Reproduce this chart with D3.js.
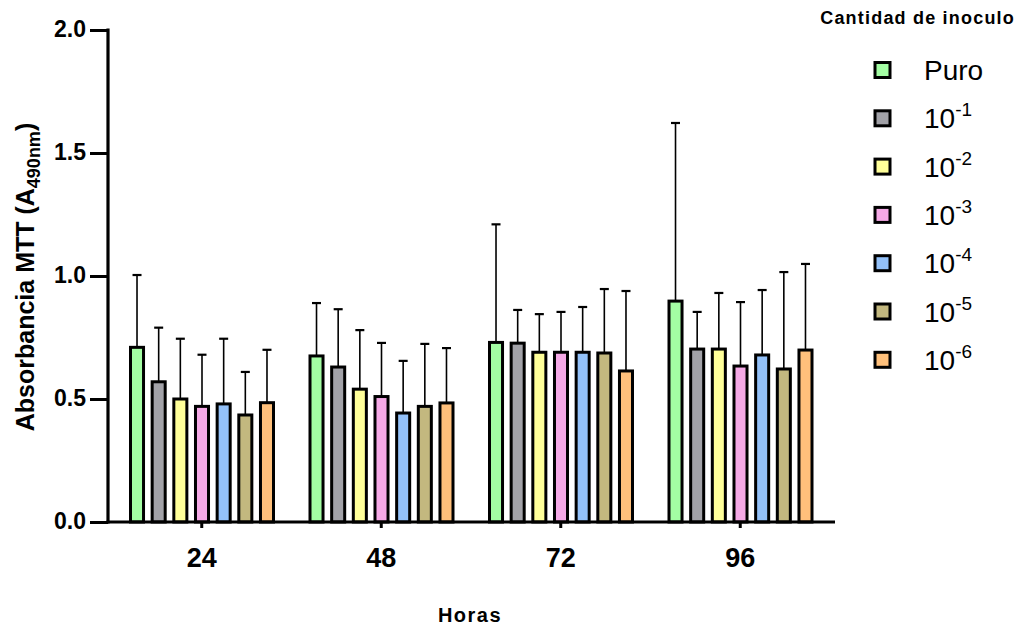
<!DOCTYPE html>
<html>
<head>
<meta charset="utf-8">
<script src="https://cdn.jsdelivr.net/npm/d3@7"></script>
<style>
  body { margin: 0; background: #fff; }
  text { font-family: "Liberation Sans", Arial, sans-serif; }
</style>
</head>
<body>
<div id="contenedor"></div>
<script>
// datos
const horas = ["24", "48", "72", "96"]
const series = ["Puro", "-1", "-2", "-3", "-4", "-5", "-6"]
const colores = ["#a3fda3", "#a2a2a8", "#ffff99", "#f5a9e6", "#93c1f9", "#c3b87f", "#ffc07b"]

// medias por serie (una lista por cantidad de inoculo, en orden 24,48,72,96)
const puro = [0.71, 0.675, 0.73, 0.898]
const d1 = [0.57, 0.63, 0.727, 0.703]
const d2 = [0.50, 0.54, 0.69, 0.703]
const d3v = [0.47, 0.51, 0.69, 0.634]
const d4 = [0.48, 0.443, 0.69, 0.679]
const d5 = [0.435, 0.47, 0.687, 0.622]
const d6 = [0.485, 0.484, 0.614, 0.699]

// extremo superior de la barra de error
const ePuro = [1.004, 0.89, 1.21, 1.622]
const e1 = [0.79, 0.865, 0.862, 0.854]
const e2 = [0.745, 0.78, 0.845, 0.931]
const e3 = [0.68, 0.728, 0.854, 0.894]
const e4 = [0.745, 0.655, 0.874, 0.943]
const e5 = [0.61, 0.724, 0.947, 1.016]
const e6 = [0.70, 0.707, 0.939, 1.049]

const yTicks = [0, 0.5, 1.0, 1.5, 2.0]

const medias = [puro, d1, d2, d3v, d4, d5, d6]
const errores = [ePuro, e1, e2, e3, e4, e5, e6]

const datos = []
horas.forEach((h, i) => {
  series.forEach((s, j) => {
    datos.push({hora: h, serie: s, j: j, valor: medias[j][i], error: errores[j][i]})
  })
})

const ancho = 1020
const alto = 626

const svg = d3.select("#contenedor")
  .append("svg")
  .attr("width", ancho)
  .attr("height", alto)

// ESCALAS
const escalaX = d3.scaleBand()
  .domain(horas)
  .range([112, 830])

const escalaSerie = d3.scaleBand()
  .domain(series)
  .range([17, 163])
  .paddingInner(0.26)

const escalaY = d3.scaleLinear()
  .domain([0, 2])
  .range([522, 30])

// barras de error (detras de las barras)
const err = svg.append("g")
datos.forEach(d => {
  const cx = escalaX(d.hora) + escalaSerie(d.serie) + escalaSerie.bandwidth() / 2
  err.append("line")
    .attr("x1", cx).attr("x2", cx)
    .attr("y1", escalaY(d.valor)).attr("y2", escalaY(d.error))
    .attr("stroke", "#000").attr("stroke-width", 1.6)
  err.append("line")
    .attr("x1", cx - 4.5).attr("x2", cx + 4.5)
    .attr("y1", escalaY(d.error)).attr("y2", escalaY(d.error))
    .attr("stroke", "#000").attr("stroke-width", 2.2)
})

// barras
svg.append("g")
  .selectAll("rect")
  .data(datos)
  .enter()
  .append("rect")
  .attr("x", d => escalaX(d.hora) + escalaSerie(d.serie) + 1.5)
  .attr("width", escalaSerie.bandwidth() - 3)
  .attr("y", d => escalaY(d.valor))
  .attr("height", d => escalaY(0) - escalaY(d.valor))
  .attr("fill", d => colores[d.j])
  .attr("stroke", "#000")
  .attr("stroke-width", 3)

// EJES
const ejeY = d3.axisLeft(escalaY)
  .tickValues(yTicks)
  .tickFormat(d3.format(".1f"))
  .tickSize(18)
  .tickPadding(4)

const gY = svg.append("g")
  .attr("transform", "translate(108,0)")
  .call(ejeY)
gY.select(".domain").remove()
gY.selectAll(".tick line").attr("stroke", "#000").attr("stroke-width", 3)
gY.selectAll("text")
  .attr("font-size", 23).attr("font-weight", "bold").attr("fill", "#000")
  .attr("dy", "0.3em")
  .style("font-family", "'Liberation Sans', Arial, sans-serif")
svg.append("line")
  .attr("x1", 108).attr("x2", 108)
  .attr("y1", escalaY(2) - 1.5).attr("y2", escalaY(0) + 1.5)
  .attr("stroke", "#000").attr("stroke-width", 3.2)

const ejeX = d3.axisBottom(escalaX)
  .tickSize(6)
  .tickPadding(20)

const gX = svg.append("g")
  .attr("transform", "translate(0,522)")
  .call(ejeX)
gX.select(".domain").remove()
gX.selectAll(".tick line").attr("stroke", "#000").attr("stroke-width", 3)
gX.selectAll("text")
  .attr("font-size", 27).attr("font-weight", "bold").attr("fill", "#000")
  .style("font-family", "'Liberation Sans', Arial, sans-serif")
svg.append("line")
  .attr("x1", 106.5).attr("x2", 835)
  .attr("y1", 522).attr("y2", 522)
  .attr("stroke", "#000").attr("stroke-width", 3.2)

// titulos de ejes
svg.append("text")
  .attr("x", 470).attr("y", 622)
  .attr("text-anchor", "middle")
  .attr("font-size", 20).attr("font-weight", "bold")
  .attr("letter-spacing", 1.5)
  .text("Horas")

const tY = svg.append("text")
  .attr("transform", "translate(34,277) rotate(-90)")
  .attr("text-anchor", "middle")
  .attr("font-size", 25).attr("font-weight", "bold")
tY.append("tspan").text("Absorbancia MTT (A")
tY.append("tspan").attr("font-size", 18).attr("dy", 6).text("490nm")
tY.append("tspan").attr("dy", -6).text(")")

// LEYENDA
svg.append("text")
  .attr("x", 1015).attr("y", 24)
  .attr("text-anchor", "end")
  .attr("font-size", 18).attr("font-weight", "bold")
  .attr("letter-spacing", 1.2)
  .text("Cantidad de inoculo")

const leyenda = svg.append("g")
series.forEach((s, j) => {
  const y = 70 + j * 48.3
  leyenda.append("rect")
    .attr("x", 875).attr("y", y - 7.5)
    .attr("width", 15).attr("height", 15)
    .attr("fill", colores[j])
    .attr("stroke", "#000").attr("stroke-width", 3)
  const t = leyenda.append("text")
    .attr("x", 924).attr("y", y + 10)
    .attr("font-size", 28)
  if (s === "Puro") {
    t.text("Puro")
  } else {
    t.append("tspan").text("10")
    t.append("tspan").attr("font-size", 19).attr("dy", -12).text(s)
  }
})
</script>
</body>
</html>
